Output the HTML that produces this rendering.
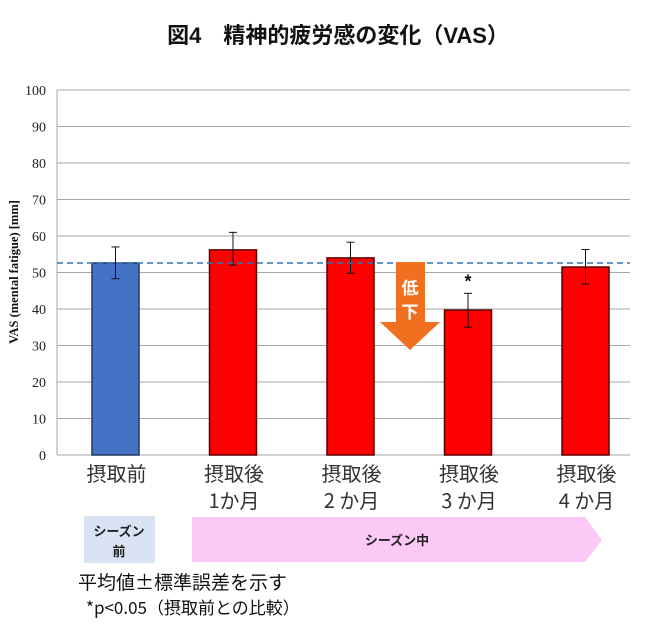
<!DOCTYPE html>
<html><head><meta charset="utf-8"><style>
body{margin:0;background:#fff;width:669px;height:628px;overflow:hidden;font-family:"Liberation Sans","Noto Sans CJK JP",sans-serif}
</style></head><body>
<svg width="669" height="628" xmlns="http://www.w3.org/2000/svg" id="svg">
<text x="338" y="43" text-anchor="middle" font-size="22" font-weight="bold" fill="#111" font-family="Liberation Sans,Noto Sans CJK JP,sans-serif">図4　精神的疲労感の変化（VAS）</text>
<g id="grid"></g>
<g id="yticks"></g>
<text transform="translate(18,272) rotate(-90)" text-anchor="middle" font-size="12.5" font-weight="bold" font-family="Liberation Serif,serif" fill="#111">VAS (mental fatigue)  [mm]</text>
<g id="bars"></g>
<g id="xlabels"></g>
<g>
<polygon points="396,262 425,262 425,322 440,322 410,350 380,322 396,322" fill="#f07020"/>
<text x="410" y="294" text-anchor="middle" font-size="17" font-weight="bold" fill="#fff" font-family="Noto Sans CJK JP,sans-serif">低</text>
<text x="410" y="318" text-anchor="middle" font-size="17" font-weight="bold" fill="#fff" font-family="Noto Sans CJK JP,sans-serif">下</text>
</g>
<g>
<rect x="84" y="516" width="71" height="47" fill="#dae3f3"/>
<text x="119" y="536" text-anchor="middle" font-size="13" font-weight="bold" fill="#222" font-family="Noto Sans CJK JP,sans-serif">シーズン</text>
<text x="119" y="556" text-anchor="middle" font-size="13" font-weight="bold" fill="#222" font-family="Noto Sans CJK JP,sans-serif">前</text>
</g>
<g>
<polygon points="192,517 585,517 602,540 585,562 192,562" fill="#fcc8f6"/>
<text x="397" y="545" text-anchor="middle" font-size="13" font-weight="bold" fill="#222" font-family="Noto Sans CJK JP,sans-serif">シーズン中</text>
</g>
<text x="78" y="589" font-size="19" fill="#111" font-family="Noto Sans CJK JP,sans-serif">平均値±標準誤差を示す</text>
<text x="86" y="614" font-size="17" fill="#111" font-family="Noto Sans CJK JP,sans-serif">*p&lt;0.05（摂取前との比較）</text>
</svg>
<script>
const categories=["摂取前","摂取後|1か月","摂取後|2 か月","摂取後|3 か月","摂取後|4 か月"];
const values=[52.6,56.2,54.0,39.7,51.5];
const errHigh=[57.0,61.0,58.3,44.3,56.3];
const errLow=[48.3,52.0,49.8,35.0,46.8];
const yTicks=[0,10,20,30,40,50,60,70,80,90,100];
const baseline=52.6;
const NS="http://www.w3.org/2000/svg";
const X0=57,X1=630,Y0=455,Y100=90;
const y=v=>Y0-(v/100)*(Y0-Y100);
const step=117.5;
const xc=i=>115.5+step*i;
function mk(t,a,p){const e=document.createElementNS(NS,t);for(const k in a)e.setAttribute(k,a[k]);p.appendChild(e);return e;}
const grid=document.getElementById('grid'),yt=document.getElementById('yticks'),bars=document.getElementById('bars'),xl=document.getElementById('xlabels');
yTicks.forEach(v=>{
const l=mk('line',{x1:X0,x2:X1,y1:y(v),y2:y(v),stroke:'#a6a6a6','stroke-width':1},grid);


const t=mk('text',{x:X0-11,y:y(v)+5,'text-anchor':'end','font-size':14,'font-family':'Liberation Serif,serif',fill:'#222'},yt);
t.textContent=v;


});
mk('line',{x1:X0,x2:X0,y1:Y100,y2:Y0,stroke:'#a6a6a6'},grid);
values.forEach((v,i)=>{
const bw=47;
const r=mk('rect',{x:xc(i)-bw/2,y:y(v),width:bw,height:Y0-y(v),fill:i===0?'#4472c4':'#ff0000',stroke:i===0?'#1f3864':'#5a0000','stroke-width':1.5},bars);


const g=mk('g',{stroke:'#111','stroke-width':1},bars);


mk('line',{x1:xc(i),x2:xc(i),y1:y(errHigh[i]),y2:y(errLow[i])},g);
mk('line',{x1:xc(i)-4,x2:xc(i)+4,y1:y(errHigh[i]),y2:y(errHigh[i])},g);
mk('line',{x1:xc(i)-4,x2:xc(i)+4,y1:y(errLow[i]),y2:y(errLow[i])},g);
const parts=categories[i].split('|');
parts.forEach((p,j)=>{
const t=mk('text',{x:xc(i)+1,y:481+j*27,'text-anchor':'middle','font-size':20,fill:'#333','font-family':'Noto Sans CJK JP,sans-serif'},xl);
t.textContent=p;


});
});
const star=mk('text',{x:xc(3),y:y(errHigh[3])-6,'text-anchor':'middle','font-size':18,fill:'#111','font-weight':'bold'},bars);
star.textContent='*';


const dl=mk('line',{x1:X0,x2:X1,y1:y(baseline),y2:y(baseline),stroke:'#2e75b6','stroke-width':1.5,'stroke-dasharray':'6,4'},bars);


</script>
</body></html>
